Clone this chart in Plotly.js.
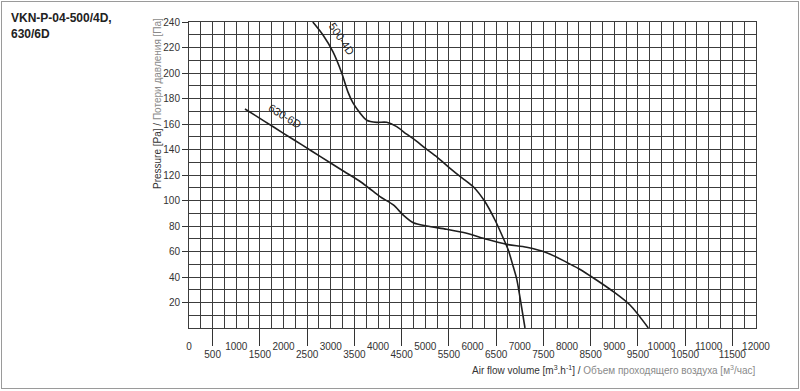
<!DOCTYPE html>
<html>
<head>
<meta charset="utf-8">
<script src="https://cdn.plot.ly/plotly-3.0.1.min.js"></script>
<style>
  html, body { margin: 0; padding: 0; background: #fff; }
  #wrap { position: relative; width: 800px; height: 391px; }
  #chart { width: 800px; height: 391px; }
  #frame { position: absolute; left: 1px; top: 1px; width: 796px; height: 386px;
           border: 1px solid #9a9a9a; pointer-events: none; }
</style>
</head>
<body>
<div id="wrap"><div id="chart"></div><div id="frame"></div></div>
<script>
// ---- data ----
const fan500Label = "500-4D";
const fan500X = [2620, 2836, 3048, 3232, 3365, 3471, 3619, 3761, 3972, 4184, 4396, 4607, 4800, 5000, 5250, 5500, 5750, 5841, 6017, 6265, 6476, 6652, 6757, 6863, 6935, 7005, 7111];
const fan500Y = [240, 229.8, 216.5, 200, 185, 176.5, 168.6, 163, 161.3, 161.3, 157.9, 152, 147, 141, 134, 126, 118.5, 116, 110.8, 99, 84.7, 70.4, 61.2, 48, 38.5, 24, 0];

const fan630Label = "630-6D";
const fan630X = [1185, 1600, 2000, 2400, 2800, 3232, 3600, 3800, 4042, 4324, 4535, 4747, 5031, 5454, 5877, 6300, 6724, 7147, 7570, 7994, 8250, 8487, 8750, 8980, 9333, 9721];
const fan630Y = [171.8, 162.1, 152.7, 143.4, 134.0, 123.9, 115.5, 110, 103, 96.5, 88.6, 82.6, 80, 77.4, 74.3, 69.6, 65.6, 63.3, 59.1, 51.5, 46.5, 41, 34.5, 28.5, 18, 0];

const xMajorTicks = [0, 1000, 2000, 3000, 4000, 5000, 6000, 7000, 8000, 9000, 10000, 11000, 12000];
const xHalfTicks = [500, 1500, 2500, 3500, 4500, 5500, 6500, 7500, 8500, 9500, 10500, 11500];
const yTicks = [20, 40, 60, 80, 100, 120, 140, 160, 180, 200, 220, 240];

const chartTitle = "VKN-P-04-500/4D,<br>630/6D";
const yTitleEn = "Pressure [Pa] / ";
const yTitleRu = "Потери давления [Па]";
const xTitleEn = "Air flow volume [m<sup>3</sup>.h<sup>-1</sup>] / ";
const xTitleRu = "Объем проходящего воздуха [м<sup>3</sup>/час]";

// ---- styling ----
const FONT = "Arial, 'Liberation Sans', Helvetica, sans-serif";
const GRID = "#3c3c3c";
const LINE = "#1e1e1e";

const traces = [
  { x: fan500X, y: fan500Y, type: "scatter", mode: "lines",
    line: { color: LINE, width: 1.6, shape: "spline", smoothing: 0.8 },
    hoverinfo: "skip", showlegend: false },
  { x: fan630X, y: fan630Y, type: "scatter", mode: "lines",
    line: { color: LINE, width: 1.6, shape: "spline", smoothing: 0.8 },
    hoverinfo: "skip", showlegend: false },
  { x: [null], y: [null], xaxis: "x2", type: "scatter", mode: "lines",
    hoverinfo: "skip", showlegend: false }
];

const L = 189, R = 44, T = 22, B = 63, W = 800, H = 391;
const pw = W - L - R, ph = H - T - B;
const px = v => (v - L) / pw;           // pixel -> paper x
const py = v => (H - B - v) / ph;       // pixel -> paper y

const layout = {
  width: W, height: H,
  margin: { l: L, r: R, t: T, b: B, pad: 0 },
  paper_bgcolor: "#fff", plot_bgcolor: "#fff",
  font: { family: FONT, size: 10, color: "#333" },
  showlegend: false,
  xaxis: {
    range: [0, 12000], fixedrange: true,
    tickmode: "array", tickvals: xMajorTicks,
    ticktext: xMajorTicks.map(String),
    ticks: "outside", ticklen: 9, tickcolor: "rgba(0,0,0,0)",
    tickfont: { family: FONT, size: 10, color: "#333" },
    showgrid: true, gridcolor: GRID, gridwidth: 1,
    minor: { dtick: 250, showgrid: true, gridcolor: GRID, gridwidth: 1, ticks: "" },
    showline: true, linecolor: GRID, linewidth: 1, mirror: true,
    zeroline: false
  },
  xaxis2: {
    range: [0, 12000], overlaying: "x", anchor: "y", side: "bottom", fixedrange: true,
    tickmode: "array", tickvals: xHalfTicks, ticktext: xHalfTicks.map(String),
    ticks: "outside", ticklen: 17, tickcolor: "#333", tickwidth: 1,
    tickfont: { family: FONT, size: 10, color: "#333" },
    showgrid: false, showline: false, zeroline: false
  },
  yaxis: {
    range: [0, 240], fixedrange: true,
    tickmode: "array", tickvals: yTicks, ticktext: yTicks.map(String),
    ticks: "outside", ticklen: 6, tickcolor: "#333",
    tickfont: { family: FONT, size: 10, color: "#333" },
    showgrid: true, gridcolor: GRID, gridwidth: 1,
    minor: { dtick: 10, showgrid: true, gridcolor: GRID, gridwidth: 1, ticks: "" },
    showline: true, linecolor: GRID, linewidth: 1, mirror: true,
    zeroline: false
  },
  annotations: [
    { text: "<b>" + chartTitle + "</b>", xref: "paper", yref: "paper",
      x: px(9), y: py(9), xanchor: "left", yanchor: "top", align: "left",
      showarrow: false, font: { family: FONT, size: 12, color: "#222" } },
    { text: yTitleEn + "<span style='color:#8a8a8a'>" + yTitleRu + "</span>",
      xref: "paper", yref: "paper", x: px(157), y: py(104),
      xanchor: "center", yanchor: "middle", textangle: -90, showarrow: false,
      font: { family: FONT, size: 10, color: "#333" } },
    { text: xTitleEn + "<span style='color:#8a8a8a'>" + xTitleRu + "</span>",
      xref: "paper", yref: "paper", x: px(757), y: py(370),
      xanchor: "right", yanchor: "middle", showarrow: false,
      font: { family: FONT, size: 10, color: "#333" } },
    { text: fan500Label, x: 3240, y: 227, xref: "x", yref: "y",
      textangle: 56, showarrow: false,
      font: { family: FONT, size: 11, color: "#222" } },
    { text: fan630Label, x: 2030, y: 166.5, xref: "x", yref: "y",
      textangle: 31.5, showarrow: false,
      font: { family: FONT, size: 11, color: "#222" } }
  ]
};

Plotly.newPlot("chart", traces, layout, { staticPlot: true, displayModeBar: false });
</script>
</body>
</html>
